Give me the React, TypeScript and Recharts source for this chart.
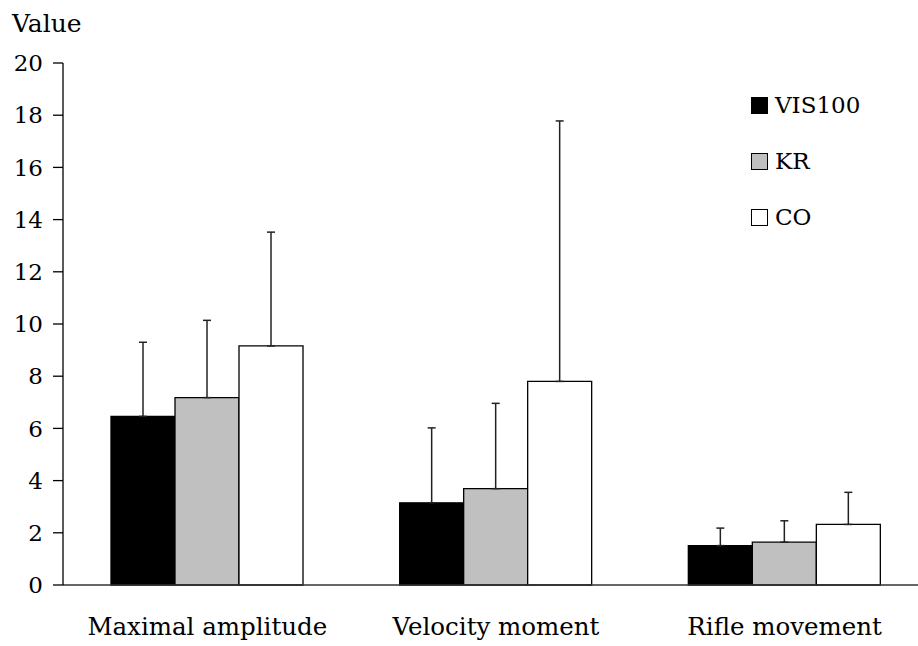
import { BarChart, Bar, XAxis, YAxis, ErrorBar, Legend } from 'recharts';

// ── Data ──────────────────────────────────────────────────────────────────────

const categories = ['Maximal amplitude', 'Velocity moment', 'Rifle movement'];
const seriesNames = ['VIS100', 'KR', 'CO'];
const vis100 = [6.46, 3.15, 1.51];
const kr = [7.18, 3.69, 1.64];
const co = [9.16, 7.8, 2.32];
const vis100Sd = [2.84, 2.87, 0.67];
const krSd = [2.96, 3.27, 0.82];
const coSd = [4.36, 9.98, 1.23];
const yTicks = [0, 2, 4, 6, 8, 10, 12, 14, 16, 18, 20];

const fills = ['#000000', '#c0c0c0', '#ffffff'];
const FONT = "'DejaVu Serif', serif";

const data = categories.map((name, i) => ({
  name,
  vis100: vis100[i],
  kr: kr[i],
  co: co[i],
  vis100Err: [0, vis100Sd[i]],
  krErr: [0, krSd[i]],
  coErr: [0, coSd[i]],
}));

// ── Legend ────────────────────────────────────────────────────────────────────

function SeriesLegend() {
  return (
    <div style={{ fontFamily: FONT, fontSize: 23, color: '#000' }}>
      {seriesNames.map((s, i) => (
        <div key={s} style={{ display: 'flex', alignItems: 'center', height: 56 }}>
          <span
            style={{
              width: 15,
              height: 15,
              background: fills[i],
              border: '1.3px solid #000',
              marginRight: 7,
              display: 'inline-block',
            }}
          />
          <span>{s}</span>
        </div>
      ))}
    </div>
  );
}

function ValueLabel() {
  return (
    <text x={12} y={32} fontSize={25} style={{ fontFamily: FONT }} fill="#000">
      Value
    </text>
  );
}

// ── Chart ─────────────────────────────────────────────────────────────────────

export default function App() {
  return (
    <div style={{ position: 'absolute', left: 0, top: 0, width: 918, height: 646, overflow: 'hidden', background: '#fff', fontFamily: FONT }}>
      <BarChart
        width={929}
        height={646}
        data={data}
        margin={{ top: 63, right: 0, bottom: 0, left: 0 }}
        barCategoryGap={48}
        barGap={0}
        style={{ fontFamily: FONT }}
      >
        <XAxis
          dataKey="name"
          height={61}
          tickSize={0}
          tickMargin={33}
          tick={{ fill: '#000', fontSize: 24.5, style: { fontFamily: FONT } }}
          axisLine={{ stroke: '#333', strokeWidth: 1.5 }}
          tickLine={false}
        />
        <YAxis
          width={63}
          domain={[0, 20]}
          ticks={yTicks}
          interval={0}
          tickSize={10}
          tickMargin={10}
          tick={{ fill: '#000', fontSize: 23, style: { fontFamily: FONT } }}
          axisLine={{ stroke: '#000', strokeWidth: 1.3 }}
          tickLine={{ stroke: '#000', strokeWidth: 1.3 }}
          label={<ValueLabel />}
        />
        <Legend
          layout="vertical"
          align="center"
          verticalAlign="middle"
          content={<SeriesLegend />}
          wrapperStyle={{ left: 751, top: 77, width: 'auto', height: 'auto' }}
        />
        <Bar dataKey="vis100" name="VIS100" fill={fills[0]} stroke="#000" strokeWidth={1.3} isAnimationActive={false}>
          <ErrorBar dataKey="vis100Err" width={4} stroke="#222" strokeWidth={1.5} isAnimationActive={false} />
        </Bar>
        <Bar dataKey="kr" name="KR" fill={fills[1]} stroke="#000" strokeWidth={1.3} isAnimationActive={false}>
          <ErrorBar dataKey="krErr" width={4} stroke="#222" strokeWidth={1.5} isAnimationActive={false} />
        </Bar>
        <Bar dataKey="co" name="CO" fill={fills[2]} stroke="#000" strokeWidth={1.3} isAnimationActive={false}>
          <ErrorBar dataKey="coErr" width={4} stroke="#222" strokeWidth={1.5} isAnimationActive={false} />
        </Bar>
      </BarChart>
    </div>
  );
}
